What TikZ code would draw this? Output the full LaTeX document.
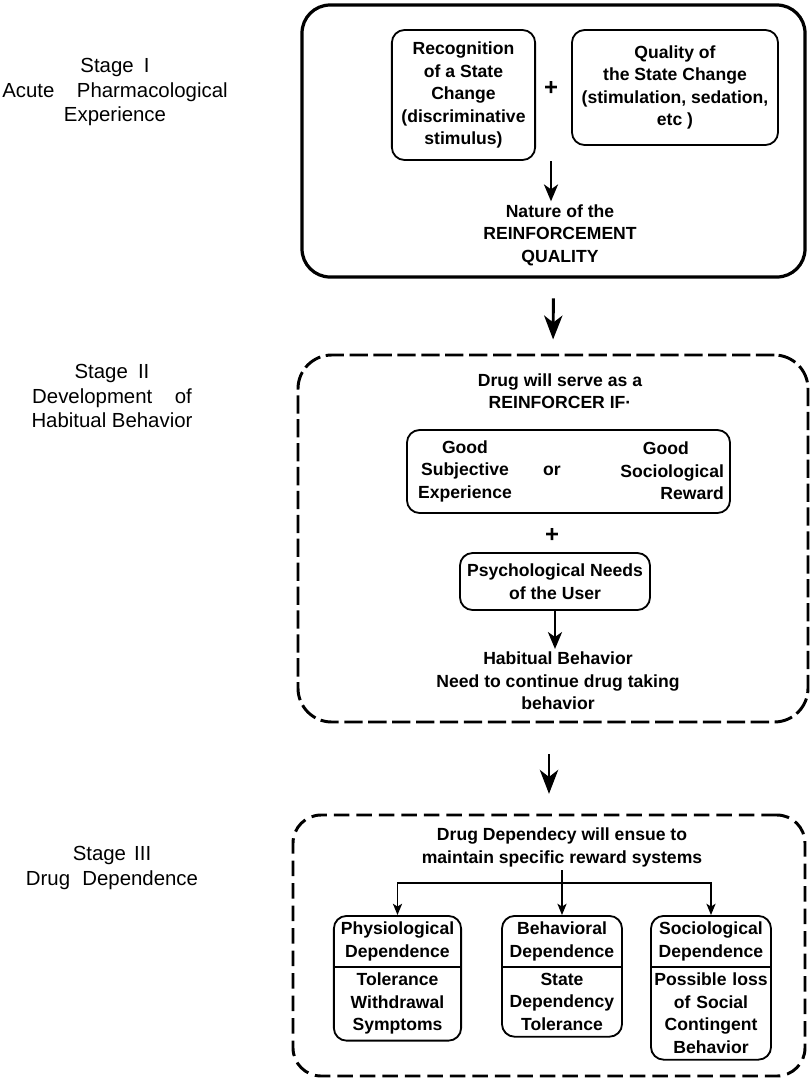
\documentclass[tikz,border=0pt]{standalone}
\usepackage{fontspec}
\setmainfont{Liberation Sans}
\usetikzlibrary{arrows.meta,positioning,fit,shapes.multipart}
\newcommand\boxfont{\fontsize{12.5}{16}\selectfont\bfseries}
\newcommand\stagefont{\fontsize{14.5}{17.5}\selectfont}
\tikzset{
  stagebox/.style={draw,line width=2.3pt,rounded corners=20pt,inner sep=0pt},
  dashbox/.style={stagebox,line width=2.1pt,dash pattern=on 13pt off 4pt},
  roundbox/.style={draw,line width=1.3pt,rounded corners=9pt,align=center,font=\boxfont,inner sep=2pt},
  boxtext/.style={align=center,font=\boxfont,inner sep=2pt},
  plussign/.style={font=\fontsize{17}{17}\selectfont\bfseries,inner sep=0pt},
  splitbox/.style={roundbox,rectangle split,rectangle split parts=2,anchor=north,inner ysep=3.7pt},
  stagelabel/.style={align=center,font=\stagefont},
  bigarrow/.style={-{Stealth[length=17pt,width=13pt,inset=5pt]},line width=2.1pt},
  midarrow/.style={-{Stealth[length=12pt,width=10pt,inset=3.5pt]},line width=1.9pt},
  smallarrow/.style={-{Stealth[length=8pt,width=6.5pt,inset=2pt]},line width=1.2pt},
  linkline/.style={line width=1.2pt}
}
\begin{document}
\begin{tikzpicture}[x=0.025cm,y=-0.025cm]
  \useasboundingbox (0,0) rectangle (811,1081);

  % stage labels
  \node[stagelabel] (l1) at (115,92) {Stage\hspace{0.5em}I\\Acute\hspace{1.1em}Pharmacological\\Experience};
  \node[stagelabel] (l2) at (112,396) {Stage\hspace{0.5em}II\\Development\hspace{1.1em}of\\Habitual Behavior};
  \node[stagelabel] (l3) at (112,868) {Stage\hspace{0.4em}III\\Drug\hspace{0.6em}Dependence};

  % stage I
  \node[stagebox,fit={(302,5) (805,277)}] (s1) {};
  \node[roundbox,minimum width=3.58cm,minimum height=3.25cm] (recog) at (463.5,95)
    {Recognition\\of a State\\Change\\(discriminative\\stimulus)};
  \node[roundbox,minimum width=5.15cm,minimum height=2.875cm] (quality) at (675,87.5)
    {Quality of\\the State Change\\(stimulation, sedation,\\etc )};
  \node[plussign] (plus1) at (551,88) {+};
  \node[boxtext] (nature) at (560,235) {Nature of the\\REINFORCEMENT\\QUALITY};
  \coordinate (join) at (551,161);
  \draw[midarrow] (join) -- (join |- nature.north);

  % stage II
  \node[dashbox,rounded corners=24pt,fit={(298,355) (808,722)}] (s2) {};
  \node[boxtext] (reinf) at (560,391) {Drug will serve as a\\REINFORCER IF·};
  \node[roundbox,minimum width=8.075cm,minimum height=2.075cm] (goodbox) at (568.5,471.5) {};
  \node[boxtext] (subj) at (465,471) {Good\\Subjective\\Experience};
  \node[boxtext] (or) at (552,471) {or};
  \node[boxtext,align=right,anchor=east] (soc) at (727,471) {Good\hspace*{2em}\\Sociological\\Reward};
  \node[plussign] (plus2) at (552,535) {+};
  \node[roundbox,minimum width=4.75cm,minimum height=1.425cm] (needs) at (555,581.5)
    {Psychological Needs\\of the User};
  \node[boxtext] (habit) at (558,681) {Habitual Behavior\\Need to continue drug taking\\behavior};
  \draw[midarrow] (needs.south) -- (needs.south |- habit.north);

  % stage III
  \node[dashbox,dash pattern=on 11pt off 5pt,fit={(293,815) (805,1076)}] (s3) {};
  \node[boxtext] (dep) at (562,847.5) {Drug Dependecy will ensue to\\maintain specific reward systems};
  \node[splitbox,text width=3.04cm] (phys) at (397.5,915)
    {Physiological\\Dependence\nodepart{two}Tolerance\\Withdrawal\\Symptoms};
  \node[splitbox,text width=2.86cm] (behav) at (562,915)
    {Behavioral\\Dependence\nodepart{two}State\\Dependency\\Tolerance};
  \node[splitbox,text width=2.86cm] (socio) at (711,915)
    {Sociological\\Dependence\nodepart{two}Possible loss\\of Social\\Contingent\\Behavior};
  \coordinate (fork) at (562,883);
  \draw[linkline] (dep.south) -- (fork);
  \draw[smallarrow] (fork) -| (phys.north);
  \draw[smallarrow] (fork) -- (behav.north);
  \draw[smallarrow] (fork) -| (socio.north);

  % stage arrows
  \draw[bigarrow,shorten <=14pt,shorten >=10pt] (s1.south) -- (s2.north);
  \draw[bigarrow,shorten <=22pt,shorten >=14pt] (s2.south -| s3.north) -- (s3.north);
\end{tikzpicture}
\end{document}
